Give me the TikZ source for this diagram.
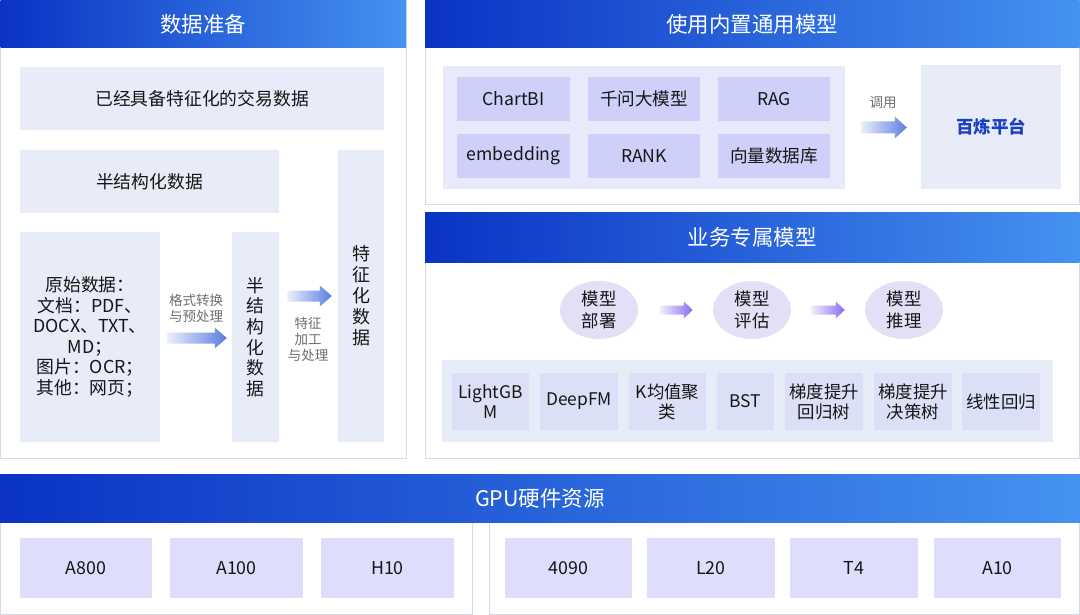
\documentclass[tikz,border=0pt]{standalone}
\usepackage{fontspec}
\setmainfont{Noto Sans CJK SC}
\usetikzlibrary{calc,shapes.geometric}
\definecolor{hdA}{HTML}{0A33C4}
\definecolor{hdB}{HTML}{4592F0}
\definecolor{pborder}{HTML}{D6DAE2}
\definecolor{lboxc}{HTML}{E8EBF8}
\definecolor{grpc}{HTML}{E8E9FB}
\definecolor{itemc}{HTML}{CED0FA}
\definecolor{mitemc}{HTML}{DCE0F6}
\definecolor{gitemc}{HTML}{DEDDFB}
\definecolor{circc}{HTML}{E2E0F7}
\definecolor{arrB}{HTML}{5A7DE0}
\definecolor{arrP}{HTML}{8A6BF0}
\definecolor{txt}{HTML}{161616}
\definecolor{lblc}{HTML}{6E6E6E}
\definecolor{blc}{HTML}{1B3EC6}
\newcommand\gradarrow[6]{%
  \shade[left color=#6!12, right color=#6] let \p1=(#1), \p2=(#2) in
    (\x1,\y1+#3) -- (\x2-#5,\y1+#3) -- (\x2-#5,\y1+#4) -- (\x2,\y1)
    -- (\x2-#5,\y1-#4) -- (\x2-#5,\y1-#3) -- (\x1,\y1-#3) -- cycle;}
% box from corners: style, x1, y1, x2, y2, name
\newcommand\rbox[6]{\node[#1, minimum width={#4-#2}, minimum height={#5-#3}] (#6) at ({(#2+#4)/2},{(#3+#5)/2})}
\tikzset{
  panel/.style={draw=pborder, line width=0.9pt, fill=white},
  hdr/.style={left color=hdA, right color=hdB, draw=none, inner sep=0pt,
    text=white, font=\fontsize{21.5}{24}\selectfont},
  lbox/.style={fill=lboxc, draw=none, inner sep=0pt, text=txt, align=center,
    font=\fontsize{17.8}{20.6}\selectfont},
  grp/.style={fill=grpc, draw=none, inner sep=0pt},
  itembox/.style={fill=itemc, draw=none, inner sep=0pt, text=txt, align=center,
    font=\fontsize{17.6}{20}\selectfont},
  mitem/.style={fill=mitemc, draw=none, inner sep=0pt, text=txt, align=center,
    font=\fontsize{17.4}{20}\selectfont},
  gitem/.style={fill=gitemc, draw=none, inner sep=0pt, text=txt, align=center,
    font=\fontsize{17.8}{20}\selectfont},
  circnode/.style={ellipse, fill=circc, draw=none, inner sep=0pt, minimum width=78pt,
    minimum height=58pt, text=txt, align=center, font=\fontsize{17.4}{22}\selectfont},
  lbl/.style={text=lblc, align=center, inner sep=0pt, font=\fontsize{13.5}{16}\selectfont},
}
\begin{document}
\begin{tikzpicture}[x=1pt,y=-1pt]
\useasboundingbox (0,0) rectangle (1080,615);
\fill[white] (0,0) rectangle (1080,615);
% ---------- left panel ----------
\draw[panel] (0.5,0.5) rectangle (406,458);
\rbox{hdr}{0.5}{0.5}{406}{48}{hL} {数据准备};
\rbox{lbox}{20}{67}{384}{130}{b1} {已经具备特征化的交易数据};
\rbox{lbox}{20}{150}{279}{213}{b2} {半结构化数据};
\rbox{lbox}{20}{232}{160}{442}{raw} {原始数据：\\文档：PDF、\\DOCX、TXT、\\MD；\\图片：OCR；\\其他：网页；};
\rbox{lbox}{232}{232}{279}{442}{semi} {半\\结\\构\\化\\数\\据};
\rbox{lbox, font=\fontsize{18}{21}\selectfont}{338}{150}{384}{442}{feat} {特\\征\\化\\数\\据};
\gradarrow{$(raw.east)+(7,1)$}{$(semi.west)+(-5,1)$}{5.5pt}{10.5pt}{12pt}{arrB}
\node[lbl] (l1) at (196,308) {格式转换\\与预处理};
\gradarrow{$(semi.east |- feat.west)+(8,0)$}{$(feat.west)+(-6,0)$}{5.5pt}{10.5pt}{12pt}{arrB}
\node[lbl] (l2) at (308,339) {特征\\加工\\与处理};
% ---------- top right panel ----------
\draw[panel] (425,0.5) rectangle (1079.5,204);
\rbox{hdr}{425}{0.5}{1079.5}{48}{hR} {使用内置通用模型};
\rbox{grp}{443}{66}{845}{189}{g1} {};
\rbox{itembox}{457}{77}{570}{121}{i1} {ChartBI};
\rbox{itembox}{588}{77}{700}{121}{i2} {千问大模型};
\rbox{itembox}{718}{77}{830}{121}{i3} {RAG};
\rbox{itembox}{457}{134}{570}{178}{i4} {embedding};
\rbox{itembox}{588}{134}{700}{178}{i5} {RANK};
\rbox{itembox}{718}{134}{830}{178}{i6} {向量数据库};
\rbox{lbox, text=blc, font=\fontsize{17.5}{20}\selectfont\bfseries}{921}{65}{1061}{189}{bl} {百炼平台};
\gradarrow{$(g1.east)+(16,0)$}{$(bl.west)+(-14,0)$}{6pt}{11pt}{12pt}{arrB}
\node[lbl] (l3) at (883,103) {调用};
% ---------- middle right panel ----------
\draw[panel] (425,213) rectangle (1079.5,458);
\rbox{hdr}{425}{213}{1079.5}{262}{hM} {业务专属模型};
\node[circnode] (c1) at (599,310) {模型\\部署};
\node[circnode] (c2) at (752,310) {模型\\评估};
\node[circnode] (c3) at (904,310) {模型\\推理};
\gradarrow{$(c1.east)+(22,0)$}{$(c2.west)+(-20,0)$}{4.5pt}{8.5pt}{9pt}{arrP}
\gradarrow{$(c2.east)+(20,0)$}{$(c3.west)+(-20,0)$}{4.5pt}{8.5pt}{9pt}{arrP}
\rbox{grp, fill=lboxc}{442}{360}{1053}{442}{g2} {};
\rbox{mitem}{452}{373}{529}{430}{m1} {LightGB\\M};
\rbox{mitem}{540}{373}{618}{430}{m2} {DeepFM};
\rbox{mitem}{629}{373}{706}{430}{m3} {K均值聚\\类};
\rbox{mitem}{717}{373}{774}{430}{m4} {BST};
\rbox{mitem}{785}{373}{863}{430}{m5} {梯度提升\\回归树};
\rbox{mitem}{874}{373}{952}{430}{m6} {梯度提升\\决策树};
\rbox{mitem}{962}{373}{1040}{430}{m7} {线性回归};
% ---------- GPU ----------
\draw[panel] (0.5,522) rectangle (472,614.5);
\draw[panel] (489,522) rectangle (1079.5,614.5);
\rbox{hdr}{0}{474}{1080}{522}{hG} {GPU硬件资源};
\rbox{gitem}{20}{538}{152}{598}{p1} {A800};
\rbox{gitem}{170}{538}{303}{598}{p2} {A100};
\rbox{gitem}{321}{538}{454}{598}{p3} {H10};
\rbox{gitem}{505}{538}{632}{598}{p4} {4090};
\rbox{gitem}{647}{538}{775}{598}{p5} {L20};
\rbox{gitem}{790}{538}{918}{598}{p6} {T4};
\rbox{gitem}{934}{538}{1061}{598}{p7} {A10};
\end{tikzpicture}
\end{document}
